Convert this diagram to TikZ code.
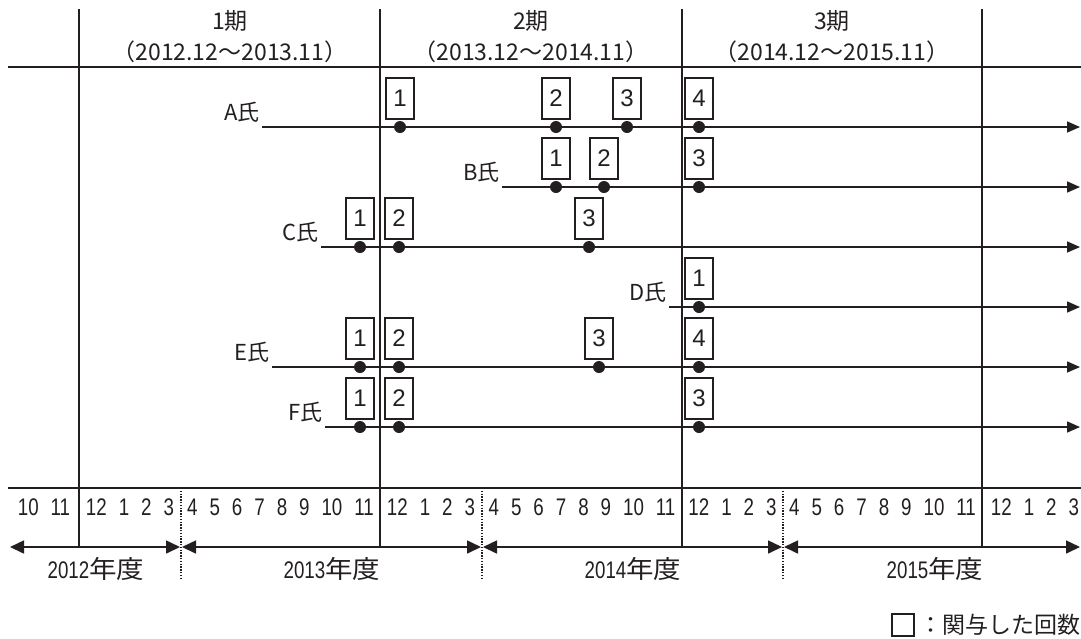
\documentclass[tikz,border=0pt]{standalone}
\usepackage{fontspec}
\setmainfont{Liberation Sans}
\newfontfamily\jp{Noto Sans CJK JP}
\newfontfamily\jpw[FakeStretch=1.1]{Noto Sans CJK JP}
\newfontfamily\nar[FakeStretch=0.78]{Liberation Sans}
\usetikzlibrary{arrows.meta}
\definecolor{ink}{HTML}{231F20}
\newcommand\mg{\hspace{12pt}}
\newcommand\yl[1]{{\nar\fontsize{24}{26}\selectfont #1}{\jpw\fontsize{25}{28}\selectfont 年度}}
\begin{document}
\begin{tikzpicture}[x=1pt,y=-1pt,
  rule/.style={line width=2.6pt, draw=ink},
  grid/.style={line width=1.6pt, draw=ink},
  fyline/.style={line width=1.2pt, draw=ink, dash pattern=on 1.4pt off 1.4pt},
  life/.style={line width=1.6pt, draw=ink, -{Triangle[length=13pt,width=11pt]}},
  yr/.style={line width=1.6pt, draw=ink, {Triangle[length=14pt,width=13pt]}-{Triangle[length=14pt,width=13pt]}},
  dot/.style={circle, fill=ink, inner sep=0pt, minimum size=12pt},
  cnt/.style={draw=ink, line width=1.4pt, minimum width=28pt, minimum height=41pt, inner sep=0pt, text=ink, font=\fontsize{24}{26}\selectfont},
  who/.style={anchor=south east, inner sep=0pt, text=ink, font=\jp\fontsize{22}{24}\selectfont},
  hdr/.style={inner sep=0pt, text=ink, font=\jp\fontsize{23}{26}\selectfont},
  mon/.style={inner sep=0pt, text=ink, font=\nar\fontsize{24}{26}\selectfont},
  yrl/.style={inner sep=0pt, text=ink},
  ]
\useasboundingbox (0,0) rectangle (1081,638);

% horizontal rules
\coordinate (TL) at (8,67); \coordinate (TR) at (1081,67);
\draw[rule] (TL) -- (TR);
\coordinate (BL) at (8,488); \coordinate (BR) at (1081,488);
\draw[rule] (BL) -- (BR);

% period boundaries
\foreach \x/\n in {79/v1,380/v2,682/v3,982/v4} {
  \coordinate (\n t) at (\x,9); \coordinate (\n b) at (\x,547);
  \draw[grid] (\n t) -- (\n b);
}
% fiscal year boundaries
\foreach \x/\n in {181/f1,482/f2,783/f3} {
  \coordinate (\n t) at (\x,488); \coordinate (\n b) at (\x,580);
  \draw[fyline] (\n t) -- (\n b);
}

% header
\node[hdr] (p1) at (230,21) {1期};
\node[hdr] (p1r) at (230,52) {（2012.12〜2013.11）};
\node[hdr] (p2) at (531,21) {2期};
\node[hdr] (p2r) at (531,52) {（2013.12〜2014.11）};
\node[hdr] (p3) at (832,21) {3期};
\node[hdr] (p3r) at (832,52) {（2014.12〜2015.11）};

% months
\node[mon] (m0) at (44,507) {10\mg 11};
\node[mon] (m1) at (130,507) {12\mg 1\mg 2\mg 3};
\node[mon] (m2) at (280.5,507) {4\mg 5\mg 6\mg 7\mg 8\mg 9\mg 10\mg 11};
\node[mon] (m3) at (431,507) {12\mg 1\mg 2\mg 3};
\node[mon] (m4) at (582,507) {4\mg 5\mg 6\mg 7\mg 8\mg 9\mg 10\mg 11};
\node[mon] (m5) at (732.5,507) {12\mg 1\mg 2\mg 3};
\node[mon] (m6) at (882.5,507) {4\mg 5\mg 6\mg 7\mg 8\mg 9\mg 10\mg 11};
\node[mon] (m7) at (1035,507) {12\mg 1\mg 2\mg 3};

% fiscal year arrows
\coordinate (y1a) at (10,547);  \coordinate (y1b) at (180,547);
\coordinate (y2a) at (182,547); \coordinate (y2b) at (481,547);
\coordinate (y3a) at (483,547); \coordinate (y3b) at (782,547);
\coordinate (y4a) at (784,547); \coordinate (y4b) at (1080,547);
\draw[yr] (y1a) -- (y1b);
\draw[yr] (y2a) -- (y2b);
\draw[yr] (y3a) -- (y3b);
\draw[yr] (y4a) -- (y4b);
\node[yrl] (fy12) at (96,569) {\yl{2012}};
\node[yrl] (fy13) at (332,569) {\yl{2013}};
\node[yrl] (fy14) at (633,569) {\yl{2014}};
\node[yrl] (fy15) at (935,569) {\yl{2015}};

% persons
\foreach \r/\y/\s/\evts in {
  A/127/262/{400/1,556/2,627/3,699/4},
  B/187/502/{556/1,604/2,699/3},
  C/247/321/{360/1,399/2,589/3},
  D/307/669/{699/1},
  E/367/272/{360/1,399/2,599/3,699/4},
  F/427/325/{360/1,399/2,699/3}} {
  \coordinate (\r s) at (\s,\y);
  \coordinate (\r e) at (1080,\y);
  \draw[life] (\r s) -- (\r e);
  \node[who] (\r l) at ([xshift=-2pt,yshift=4pt]\r s) {\r 氏};
  \foreach \ex/\en in \evts {
    \node[dot] (\r d\en) at (\ex,\y) {};
    \node[cnt] (\r b\en) at (\ex,{\y-28.5}) {\en};
  }
}

% legend
\node[draw=ink, line width=1.4pt, minimum size=22pt, inner sep=0pt] (lg) at (903,625) {};
\node[anchor=west, inner sep=0pt, text=ink, font=\jp\fontsize{23}{26}\selectfont] (lgt) at (919,625) {：関与した回数};
\end{tikzpicture}
\end{document}
